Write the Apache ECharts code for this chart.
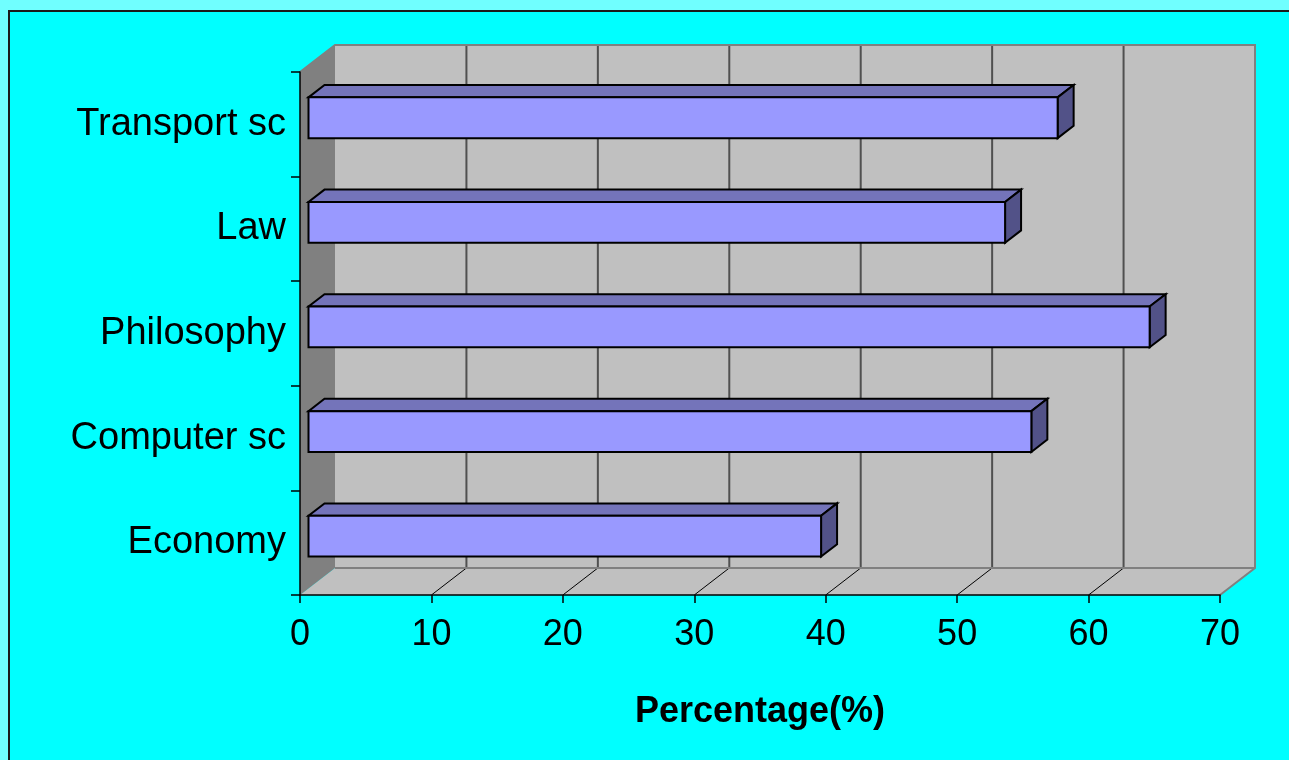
<!DOCTYPE html>
<html>
<head>
<meta charset="utf-8">
<title>Percentage by field</title>
<script src="https://cdn.jsdelivr.net/npm/echarts@6/dist/echarts.min.js"></script>
<style>
  html, body { margin: 0; padding: 0; background: #70FFFF; }
  #frame {
    position: absolute; left: 8px; top: 10px; width: 1400px; height: 900px;
    background: #00FFFF; border-left: 2px solid #1a1a1a; border-top: 2px solid #1a1a1a;
  }
  #chart { position: absolute; left: 0; top: 0; width: 1289px; height: 760px; }
</style>
</head>
<body>
<div id="frame"></div>
<div id="chart"></div>
<script>
// Fields of study, listed bottom to top
const categories = ['Economy', 'Computer sc', 'Philosophy', 'Law', 'Transport sc'];
// Percentage for each field
const percentages = [39, 55, 64, 53, 57];
// Value axis ticks
const xTicks = [0, 10, 20, 30, 40, 50, 60, 70];

// Depth of the box (pixels) and position of the bars inside it
const DEPTH_X = 35, DEPTH_Y = -27;
const BAR_FRONT = 0.243, BAR_BACK = 0.70;
const BAR_RATIO = 0.39;

const chart = echarts.init(document.getElementById('chart'), null, { renderer: 'canvas' });

function renderWalls(params, api) {
  const cs = params.coordSys;
  const x = cs.x, y = cs.y, w = cs.width, h = cs.height;
  const children = [];
  // back wall
  children.push({ type: 'rect', shape: { x: x + DEPTH_X, y: y + DEPTH_Y, width: w, height: h },
    style: { fill: '#C0C0C0', stroke: null } });
  // floor
  children.push({ type: 'polygon', shape: { points: [
      [x, y + h], [x + w, y + h], [x + w + DEPTH_X, y + h + DEPTH_Y], [x + DEPTH_X, y + h + DEPTH_Y]] },
    style: { fill: '#C0C0C0', stroke: null } });
  // left wall
  children.push({ type: 'polygon', shape: { points: [
      [x, y], [x + DEPTH_X, y + DEPTH_Y], [x + DEPTH_X, y + h + DEPTH_Y], [x, y + h]] },
    style: { fill: '#808080', stroke: null } });
  // gridlines on back wall and floor
  xTicks.forEach(function (v) {
    const px = api.coord([v, 0])[0];
    if (v > xTicks[0] && v < xTicks[xTicks.length - 1]) {
      children.push({ type: 'line', shape: { x1: px + DEPTH_X, y1: y + DEPTH_Y, x2: px + DEPTH_X, y2: y + h + DEPTH_Y },
        style: { stroke: '#505050', lineWidth: 2 } });
      children.push({ type: 'line', shape: { x1: px, y1: y + h, x2: px + DEPTH_X, y2: y + h + DEPTH_Y },
        style: { stroke: '#000000', lineWidth: 1 } });
    }
  });
  // box edges
  const edge = { stroke: '#808080', lineWidth: 2, fill: null };
  children.push({ type: 'polyline', shape: { points: [
      [x, y], [x + DEPTH_X, y + DEPTH_Y], [x + w + DEPTH_X, y + DEPTH_Y],
      [x + w + DEPTH_X, y + h + DEPTH_Y], [x + w, y + h]] }, style: edge });
  children.push({ type: 'line', shape: { x1: x + DEPTH_X, y1: y + h + DEPTH_Y, x2: x + w + DEPTH_X, y2: y + h + DEPTH_Y },
    style: { stroke: '#808080', lineWidth: 2 } });
  return { type: 'group', children: children };
}

function renderBar(params, api) {
  const val = api.value(0), cat = api.value(1);
  const a = api.coord([0, cat]), b = api.coord([val, cat]);
  const band = api.size([0, 1])[1];
  const hh = band * BAR_RATIO / 2;
  const top = a[1] - hh, bot = a[1] + hh;
  const fx = DEPTH_X * BAR_FRONT, fy = DEPTH_Y * BAR_FRONT;
  const bx = DEPTH_X * BAR_BACK, by = DEPTH_Y * BAR_BACK;
  const x0 = a[0], x1 = b[0];
  const line = { stroke: '#000000', lineWidth: 2, lineJoin: 'miter' };
  return {
    type: 'group',
    children: [
      { type: 'polygon', shape: { points: [
          [x0 + fx, top + fy], [x1 + fx, top + fy], [x1 + bx, top + by], [x0 + bx, top + by]] },
        style: Object.assign({ fill: '#7474BA' }, line) },
      { type: 'polygon', shape: { points: [
          [x1 + fx, top + fy], [x1 + bx, top + by], [x1 + bx, bot + by], [x1 + fx, bot + fy]] },
        style: Object.assign({ fill: '#525288' }, line) },
      { type: 'rect', shape: { x: x0 + fx, y: top + fy, width: x1 - x0, height: bot - top },
        style: Object.assign({ fill: '#9999FF' }, line) }
    ]
  };
}

const option = {
  animation: false,
  backgroundColor: 'transparent',
  grid: { left: 300, right: 69, top: 72, bottom: 165, containLabel: false },
  xAxis: {
    type: 'value', min: 0, max: 70, interval: 10, z: 10,
    name: 'Percentage(%)', nameLocation: 'middle', nameGap: 99,
    nameTextStyle: { fontFamily: 'Liberation Sans, Arial, sans-serif', fontSize: 36, fontWeight: 'bold', color: '#000' },
    axisLine: { show: true, onZero: false, lineStyle: { color: '#000', width: 1.5 } },
    axisTick: { show: true, length: 8, lineStyle: { color: '#000', width: 1.5 } },
    splitLine: { show: false },
    axisLabel: { fontFamily: 'Liberation Sans, Arial, sans-serif', fontSize: 36, color: '#000', margin: 22 }
  },
  yAxis: {
    type: 'category', data: categories, z: 10,
    axisLine: { show: true, lineStyle: { color: '#000', width: 1.5 } },
    axisTick: { show: true, length: 9, alignWithLabel: false, lineStyle: { color: '#000', width: 1.5 } },
    splitLine: { show: false },
    axisLabel: { fontFamily: 'Liberation Sans, Arial, sans-serif', fontSize: 38, color: '#000', margin: 14,
      padding: [0, 0, 16, 0] }
  },
  series: [
    { type: 'custom', renderItem: renderWalls, data: [[0, 0]], z: 1, silent: true },
    { type: 'custom', renderItem: renderBar, z: 3,
      encode: { x: 0, y: 1 },
      data: percentages.map(function (v, i) { return [v, i]; }) }
  ]
};
chart.setOption(option);
</script>
</body>
</html>
